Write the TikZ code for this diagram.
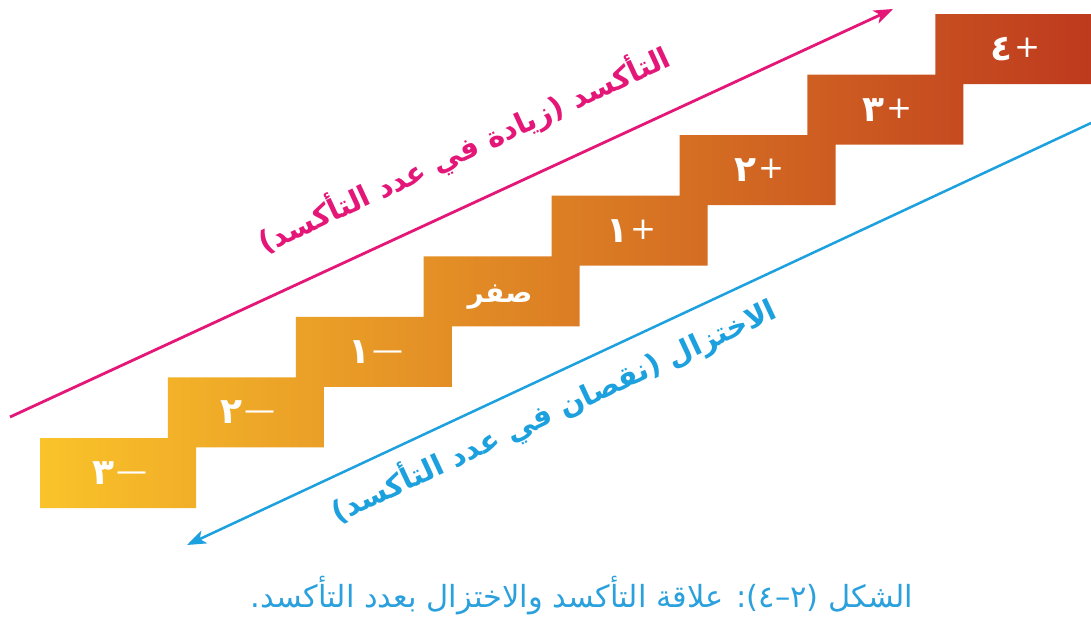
\documentclass[tikz,border=0pt]{standalone}
\usepackage{fontspec}
\newfontfamily\arabicfont[Script=Arabic]{DejaVu Sans}
\TeXXeTstate=1
\usetikzlibrary{arrows.meta,positioning}
\definecolor{oxpink}{RGB}{228,22,120}
\definecolor{redblue}{RGB}{28,160,222}
\definecolor{capblue}{RGB}{42,160,220}
\definecolor{stairyel}{RGB}{250,195,42}
\definecolor{stairmid}{RGB}{219,130,34}
\definecolor{stairred}{RGB}{190,58,30}
% sign in light weight, digit in bold, read right to left
\newcommand\oxnum[2]{\beginR{\mdseries\fontsize{31}{33}\selectfont\raisebox{3pt}{#1}}\kern2pt#2\endR}

\begin{document}
\begin{tikzpicture}[x=1pt, y=-1pt,
  lvl/.style={text=white, font=\arabicfont\bfseries\fontsize{36}{38}\selectfont, inner sep=0pt},
  oxarr/.style={oxpink, line width=2.8pt, -{Stealth[length=19pt,width=14pt,inset=5pt]}},
  rdarr/.style={redblue, line width=2.5pt, {Stealth[length=19pt,width=14pt,inset=5pt]}-},
  lab/.style={font=\arabicfont\bfseries\fontsize{29}{31}\selectfont, sloped, inner sep=0pt}
]
\useasboundingbox (0,0) rectangle (1091,622);

% staircase, one path with a horizontal gradient
\shade[left color=stairyel, middle color=stairmid, right color=stairred]
  (40,508) -- (40,438)
  \foreach \i in {1,...,7} { -- ({40+127.9*\i},{438-60.57*(\i-1)}) -- ({40+127.9*\i},{438-60.57*\i}) }
  -- (1092,14) -- (1092,84)
  \foreach \i in {7,...,1} { -- ({196+127.9*(\i-1)},{508-60.57*\i}) -- ({196+127.9*(\i-1)},{508-60.57*(\i-1)}) }
  -- cycle;

% oxidation numbers on the steps
\foreach \i/\val in {0/\oxnum{—}{٣},1/\oxnum{—}{٢},2/\oxnum{—}{١},4/\oxnum{+}{١},5/\oxnum{+}{٢},6/\oxnum{+}{٣},7/\oxnum{+}{٤}}
  \node[lvl] (lv\i) at ({120+127.9*\i},{473-60.57*\i}) {\val};
\node[lvl, font=\arabicfont\bfseries\fontsize{28}{30}\selectfont] (lv3) at (500,297) {صفر};

% arrows
\coordinate (ox1) at (10,417);
\coordinate (ox2) at (893,9);
\coordinate (rd1) at (1091,123);
\coordinate (rd2) at (187,545);
\draw[oxarr] (ox1) -- node[lab, above=33pt, pos=0.539, text=oxpink] (oxlab)
  {\beginR التأكسد (زيادة في عدد التأكسد)\endR} (ox2);
\draw[rdarr] (rd2) -- node[lab, below=14pt, pos=0.39, text=redblue] (rdlab)
  {\beginR الاختزال (نقصان في عدد التأكسد)\endR} (rd1);

% caption
\node[font=\arabicfont\fontsize{30.5}{32}\selectfont, text=capblue] (cap) at (582,596)
  {\beginR الشكل (٢–٤): علاقة التأكسد والاختزال بعدد التأكسد.\endR};
\end{tikzpicture}
\end{document}
